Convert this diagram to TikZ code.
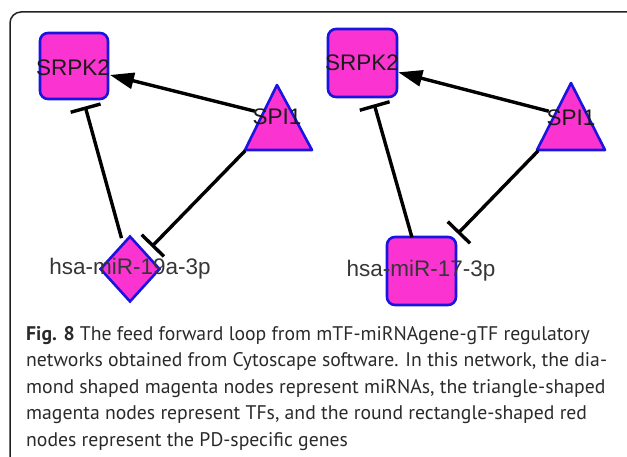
\documentclass[tikz,border=0pt]{standalone}
\usepackage{fontspec}
\setmainfont{PT Sans}
\newfontfamily\labelfont{Liberation Sans}
\usetikzlibrary{arrows.meta,shapes.geometric}
\definecolor{nodefill}{HTML}{FB33D0}
\definecolor{nodeedge}{HTML}{1A14E0}
\definecolor{framecol}{HTML}{222222}
\definecolor{lblcol}{HTML}{1A1A1A}
\definecolor{mircol}{HTML}{363636}
\definecolor{capcol}{HTML}{2A2A2A}
\tikzset{
  genebox/.style={draw=nodeedge, fill=nodefill, line width=2.6pt, rounded corners=8pt, inner sep=0pt},
  tfshape/.style={draw=nodeedge, fill=nodefill, line width=2.6pt, line join=round},
  mirdiamond/.style={diamond, draw=nodeedge, fill=nodefill, line width=2.6pt, inner sep=0pt, minimum width=60pt, minimum height=66pt},
  nlabel/.style={font=\labelfont\fontsize{22.5}{22.5}\selectfont, text=lblcol, inner sep=0pt},
  mlabel/.style={font=\labelfont\fontsize{22.5}{22.5}\selectfont, text=mircol, inner sep=0pt},
  activate/.style={line width=3.4pt, -{Triangle[length=24pt,width=16pt]}},
  inhibit/.style={line width=3.4pt, -{Bar[width=31pt,line width=3.4pt]}},
}
\begin{document}
\begin{tikzpicture}[x=1pt,y=-1pt]
\useasboundingbox (0,0) rectangle (627,457);
\clip (0,0) rectangle (627,457);
% frame
\draw[framecol, line width=1.5pt, rounded corners=11pt] (10,12) rectangle (660,490);

% ---------- left network ----------
\node[genebox, minimum width=68pt, minimum height=66pt] (srpkL) at (74,66) {};
\draw[tfshape] (277,85) -- (312,150) -- (245,150) -- cycle;
\coordinate (spiL) at (278,117);
\node[mirdiamond] (mirL) at (130,269) {};

\draw[activate, shorten <=24pt, shorten >=37pt] (spiL) -- (srpkL.center);
\draw[inhibit, shorten <=32pt, shorten >=42pt] (mirL.center) -- (srpkL.center);
\draw[inhibit, shorten <=47pt, shorten >=31pt] (spiL) -- (mirL.center);

\node[nlabel] (srpkLlab) at (73,68) {SRPK2};
\node[nlabel] (spiLlab) at (277,117) {SPI1};
\node[mlabel] (mirLlab) at (130,269) {hsa-miR-19a-3p};

% ---------- right network ----------
\node[genebox, minimum width=69pt, minimum height=68pt] (srpkR) at (362.5,63) {};
\draw[tfshape] (571,83) -- (605,150) -- (537,150) -- cycle;
\coordinate (spiR) at (571,117);
\node[genebox, minimum width=69pt, minimum height=68pt] (mirR) at (421.5,271) {};

\draw[activate, shorten <=23pt, shorten >=37pt] (spiR) -- (srpkR.center);
\draw[inhibit, shorten <=35pt, shorten >=43pt] (mirR.center) -- (srpkR.center);
\draw[inhibit, shorten <=47pt, shorten >=52pt] (spiR) -- (mirR.center);

\node[nlabel] (srpkRlab) at (362,63) {SRPK2};
\node[nlabel] (spiRlab) at (571,118) {SPI1};
\node[mlabel] (mirRlab) at (421,271) {hsa-miR-17-3p};

% ---------- caption ----------
\node[anchor=base west, align=left, inner sep=0pt, text=capcol,
      font=\fontsize{19.7}{26.5}\selectfont] (cap) at (26,446)
  {\textbf{Fig. 8} The feed forward loop from mTF-miRNAgene-gTF regulatory\\
   networks obtained from Cytoscape software. In this network, the dia-\\
   mond shaped magenta nodes represent miRNAs, the triangle-shaped\\
   magenta nodes represent TFs, and the round rectangle-shaped red\\
   nodes represent the PD-specific genes};
\end{tikzpicture}
\end{document}
